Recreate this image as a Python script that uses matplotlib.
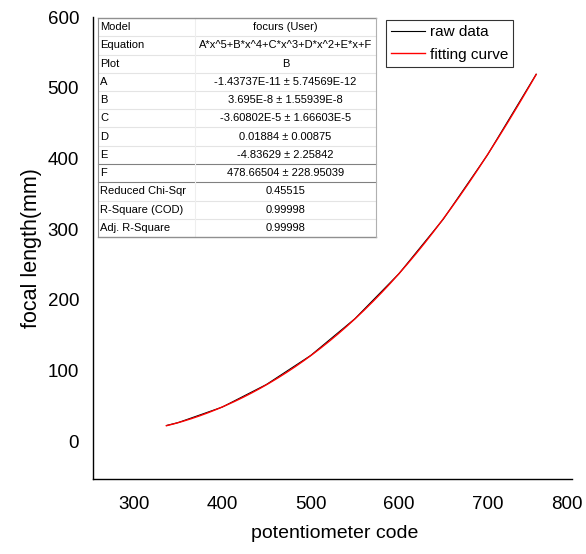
import numpy as np
import matplotlib
matplotlib.use("Agg")
import matplotlib.pyplot as plt
import matplotlib.transforms as mtransforms
from matplotlib.lines import Line2D

plt.rcParams['font.family'] = ['Liberation Sans', 'DejaVu Sans']

# measured focal length vs potentiometer code
raw_code = [337, 350, 400, 450, 500, 550, 600, 650, 700, 755]
raw_focal = [22, 26, 48, 80, 121, 173, 237, 314, 405, 519]

# 5th order polynomial fit  A*x^5+B*x^4+C*x^3+D*x^2+E*x+F
coef_A = -1.43737e-11
coef_B = 3.695e-8
coef_C = -3.60802e-5
coef_D = 0.01884
coef_E = -4.83629
coef_F = 478.66504

table_names = ["Model", "Equation", "Plot", "A", "B", "C", "D", "E", "F",
               "Reduced Chi-Sqr", "R-Square (COD)", "Adj. R-Square"]
table_values = ["focurs (User)", "A*x^5+B*x^4+C*x^3+D*x^2+E*x+F", "B",
                "-1.43737E-11 \u00b1 5.74569E-12", "3.695E-8 \u00b1 1.55939E-8",
                "-3.60802E-5 \u00b1 1.66603E-5", "0.01884 \u00b1 0.00875",
                "-4.83629 \u00b1 2.25842", "478.66504 \u00b1 228.95039",
                "0.45515", "0.99998", "0.99998"]

x_ticks = [300, 400, 500, 600, 700, 800]
y_ticks = [0, 100, 200, 300, 400, 500, 600]

W, H = 586, 554
fig = plt.figure(figsize=(W / 100, H / 100), dpi=100)


def fx(px):
    return px / W


def fy(py):
    return 1 - py / H


ax = fig.add_axes([fx(93), fy(479), fx(576) - fx(93), fy(17) - fy(479)])

fit_x = np.linspace(raw_code[0], raw_code[-1], 300)
fit_y = np.polyval([coef_A, coef_B, coef_C, coef_D, coef_E, coef_F], fit_x)

ax.plot(raw_code, raw_focal, color='black', lw=0.8, label='raw data')
ax.plot(fit_x, fit_y, color='red', lw=1.0, label='fitting curve')

ax.set_xlim(254, 800)
ax.set_ylim(-53.7, 600)
ax.set_xticks(x_ticks)
ax.set_yticks(y_ticks)
ax.tick_params(length=0, labelsize=13.5)
ax.tick_params(axis='x', pad=12)
ax.tick_params(axis='y', pad=10)
ax.spines['top'].set_visible(False)
ax.spines['right'].set_visible(False)
ax.spines['bottom'].set_bounds(254, 795)
ax.spines['left'].set_linewidth(1.0)
ax.spines['bottom'].set_linewidth(1.0)

# keep the last x label inside the canvas
last = ax.get_xticklabels()[-1]
last.set_transform(last.get_transform() +
                   mtransforms.ScaledTranslation(-9 / 100, 0, fig.dpi_scale_trans))

ax.set_xlabel("potentiometer code", fontsize=14, labelpad=9)
ax.set_ylabel("focal length(mm)", fontsize=15.5, labelpad=4)

leg = ax.legend(loc='upper left', bbox_to_anchor=(fx(386), fy(20)),
                bbox_transform=fig.transFigure, fontsize=11,
                frameon=True, fancybox=False, handlelength=2.2,
                handletextpad=0.3, labelspacing=0.55, borderpad=0.35,
                borderaxespad=0)
leg.get_frame().set_edgecolor('black')
leg.get_frame().set_linewidth(0.8)

# parameter table drawn in figure coordinates
t_left, t_right, t_div = 98, 376, 195
t_top, t_bot = 18, 237
row_h = (t_bot - t_top) / len(table_names)

for i, (name, val) in enumerate(zip(table_names, table_values)):
    yc = t_top + row_h * (i + 0.5)
    fig.text(fx(t_left + 2), fy(yc), name, fontsize=8, ha='left', va='center')
    fig.text(fx((t_div + t_right) / 2), fy(yc), val, fontsize=8,
             ha='center', va='center')
    if i > 0:
        yl = t_top + row_h * i
        strong = name in ("F", "Reduced Chi-Sqr")
        fig.add_artist(Line2D([fx(t_left), fx(t_right)], [fy(yl), fy(yl)],
                              color='#808080' if strong else '#e4e4e4',
                              lw=0.8))

fig.add_artist(Line2D([fx(t_div), fx(t_div)], [fy(t_top), fy(t_bot)],
                      color='#eeeeee', lw=0.8))
for yl in (t_top, t_bot):
    fig.add_artist(Line2D([fx(t_left), fx(t_right)], [fy(yl), fy(yl)],
                          color='#909090', lw=1.0))
for xl in (t_left, t_right):
    fig.add_artist(Line2D([fx(xl), fx(xl)], [fy(t_top), fy(t_bot)],
                          color='#b0b0b0' if xl == t_right else '#909090',
                          lw=0.8))

fig.savefig("out.png", dpi=100)
